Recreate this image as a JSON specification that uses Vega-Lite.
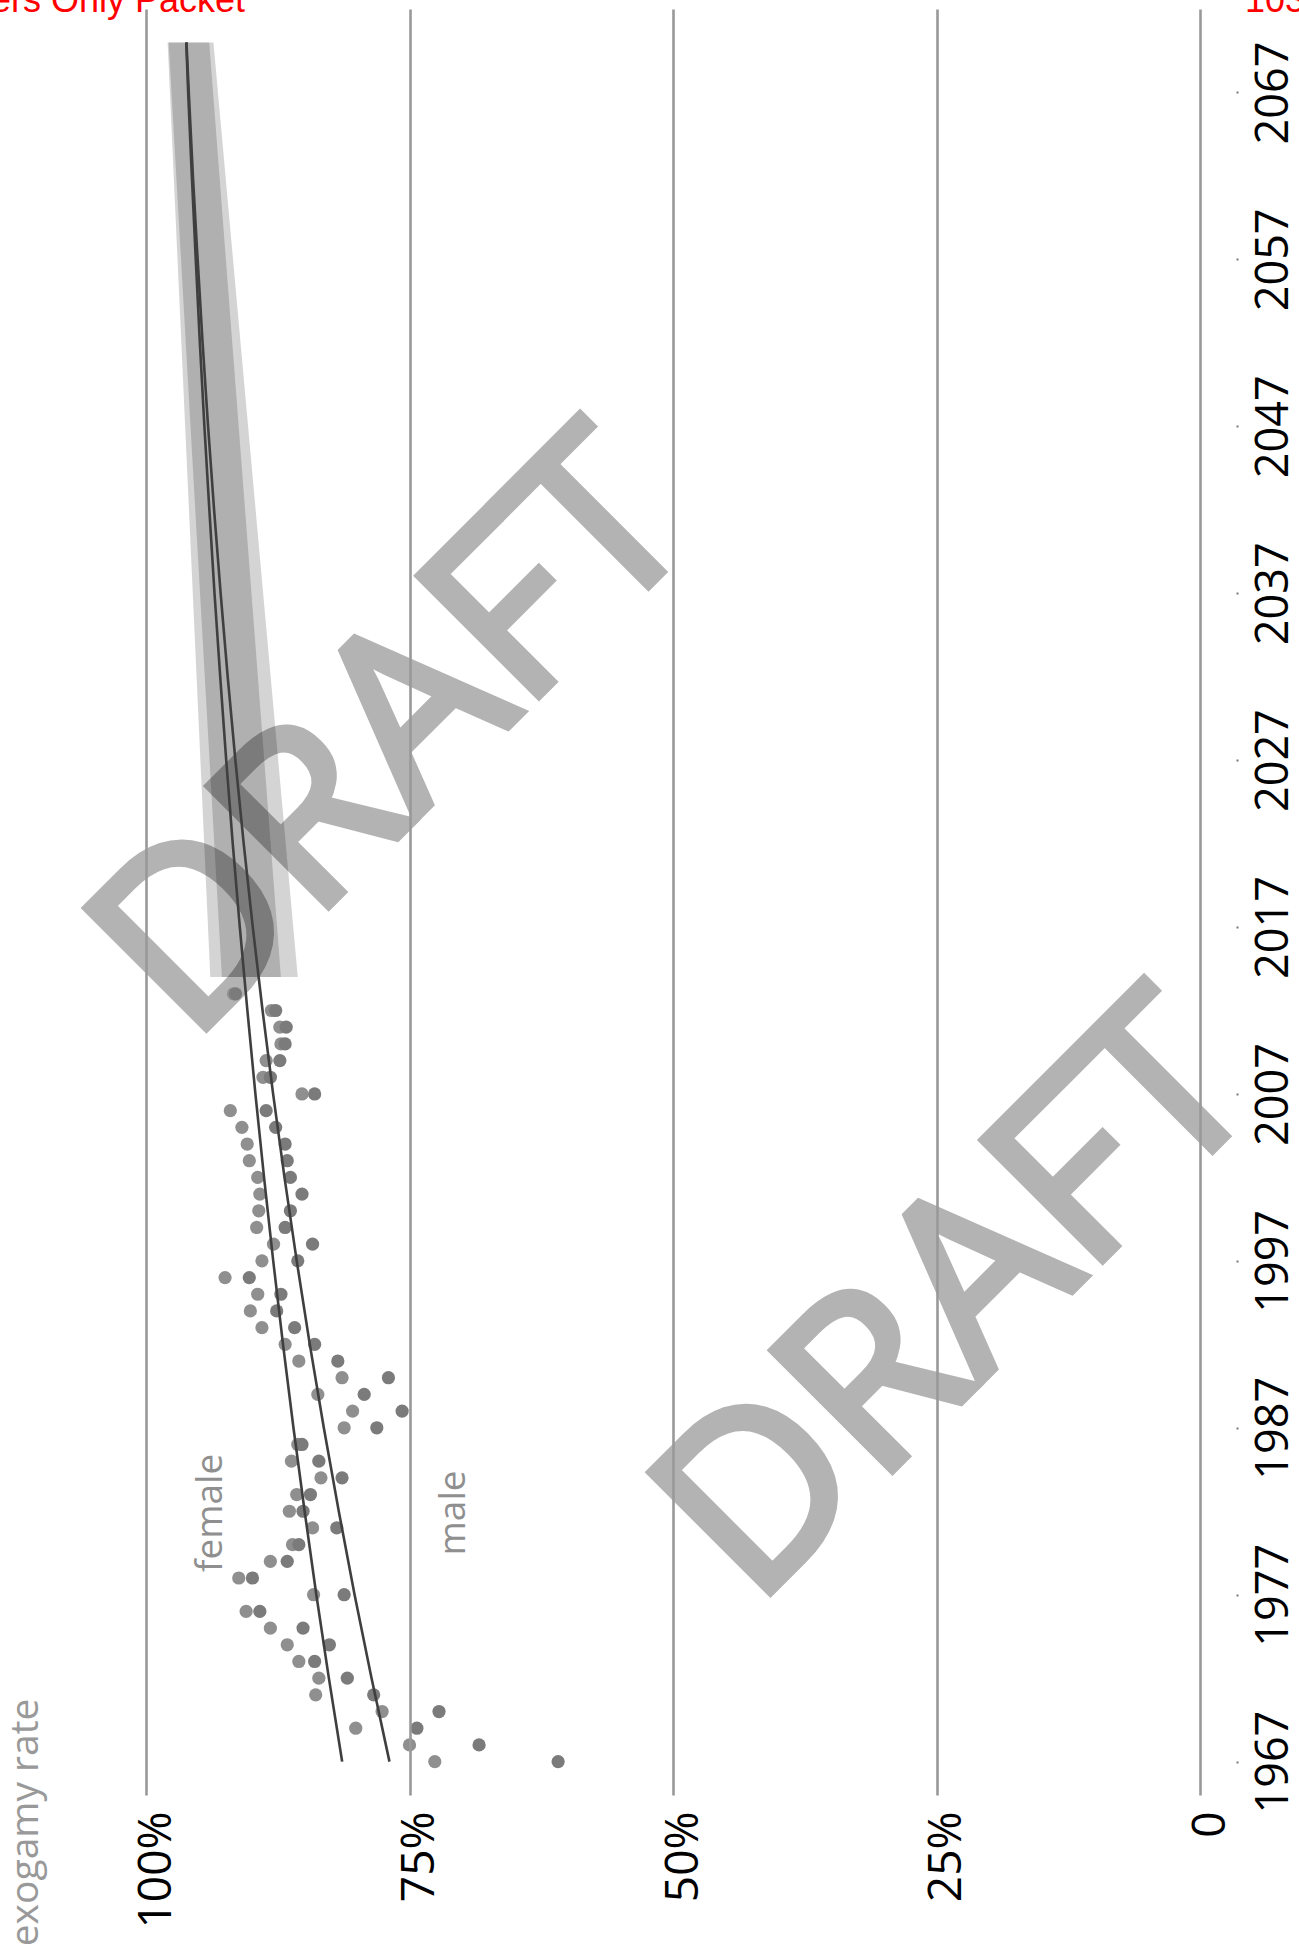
{
  "$schema": "https://vega.github.io/schema/vega-lite/v6.json",
  "width": 1054,
  "height": 1786,
  "autosize": {"type": "none"},
  "padding": {"left": 146, "top": 9, "right": 99, "bottom": 149},
  "background": "white",
  "config": {"view": {"stroke": null}, "font": "Open Sans"},
  "datasets": {
    "bands": [
      {"series": "female", "year": 2014, "rate": 87.2, "rate2": 93.9},
      {"series": "female", "year": 2070, "rate": 94.0, "rate2": 97.95},
      {"series": "male", "year": 2014, "rate": 85.6, "rate2": 92.8},
      {"series": "male", "year": 2070, "rate": 93.6, "rate2": 97.85}
    ],
    "fits": [
      {"series": "female", "year": 1967, "rate": 81.39},
      {"series": "female", "year": 1972, "rate": 82.65},
      {"series": "female", "year": 1977, "rate": 83.84},
      {"series": "female", "year": 1982, "rate": 84.95},
      {"series": "female", "year": 1987, "rate": 86.01},
      {"series": "female", "year": 1992, "rate": 87.0},
      {"series": "female", "year": 1997, "rate": 87.93},
      {"series": "female", "year": 2002, "rate": 88.8},
      {"series": "female", "year": 2007, "rate": 89.62},
      {"series": "female", "year": 2012, "rate": 90.38},
      {"series": "female", "year": 2017, "rate": 91.1},
      {"series": "female", "year": 2022, "rate": 91.77},
      {"series": "female", "year": 2027, "rate": 92.39},
      {"series": "female", "year": 2032, "rate": 92.96},
      {"series": "female", "year": 2037, "rate": 93.5},
      {"series": "female", "year": 2042, "rate": 93.99},
      {"series": "female", "year": 2047, "rate": 94.46},
      {"series": "female", "year": 2052, "rate": 94.89},
      {"series": "female", "year": 2057, "rate": 95.28},
      {"series": "female", "year": 2062, "rate": 95.65},
      {"series": "female", "year": 2067, "rate": 96.0},
      {"series": "female", "year": 2070, "rate": 96.18},
      {"series": "male", "year": 1967, "rate": 76.9},
      {"series": "male", "year": 1972, "rate": 78.6},
      {"series": "male", "year": 1977, "rate": 80.21},
      {"series": "male", "year": 1982, "rate": 81.71},
      {"series": "male", "year": 1987, "rate": 83.13},
      {"series": "male", "year": 1992, "rate": 84.46},
      {"series": "male", "year": 1997, "rate": 85.7},
      {"series": "male", "year": 2002, "rate": 86.86},
      {"series": "male", "year": 2007, "rate": 87.94},
      {"series": "male", "year": 2012, "rate": 88.94},
      {"series": "male", "year": 2017, "rate": 89.87},
      {"series": "male", "year": 2022, "rate": 90.73},
      {"series": "male", "year": 2027, "rate": 91.52},
      {"series": "male", "year": 2032, "rate": 92.25},
      {"series": "male", "year": 2037, "rate": 92.92},
      {"series": "male", "year": 2042, "rate": 93.54},
      {"series": "male", "year": 2047, "rate": 94.11},
      {"series": "male", "year": 2052, "rate": 94.63},
      {"series": "male", "year": 2057, "rate": 95.1},
      {"series": "male", "year": 2062, "rate": 95.55},
      {"series": "male", "year": 2067, "rate": 95.94},
      {"series": "male", "year": 2070, "rate": 96.16}
    ],
    "obs": [
      {"year": 1967, "series": "female", "rate": 72.6}, {"year": 1967, "series": "male", "rate": 60.9},
      {"year": 1968, "series": "female", "rate": 75.0}, {"year": 1968, "series": "male", "rate": 68.4},
      {"year": 1969, "series": "female", "rate": 80.1}, {"year": 1969, "series": "male", "rate": 74.3},
      {"year": 1970, "series": "female", "rate": 77.6}, {"year": 1970, "series": "male", "rate": 72.2},
      {"year": 1971, "series": "female", "rate": 83.9}, {"year": 1971, "series": "male", "rate": 78.4},
      {"year": 1972, "series": "female", "rate": 83.6}, {"year": 1972, "series": "male", "rate": 80.9},
      {"year": 1973, "series": "female", "rate": 85.5}, {"year": 1973, "series": "male", "rate": 84.0},
      {"year": 1974, "series": "female", "rate": 86.6}, {"year": 1974, "series": "male", "rate": 82.6},
      {"year": 1975, "series": "female", "rate": 88.2}, {"year": 1975, "series": "male", "rate": 85.1},
      {"year": 1976, "series": "female", "rate": 90.5}, {"year": 1976, "series": "male", "rate": 89.2},
      {"year": 1977, "series": "female", "rate": 84.1}, {"year": 1977, "series": "male", "rate": 81.2},
      {"year": 1978, "series": "female", "rate": 91.2}, {"year": 1978, "series": "male", "rate": 89.9},
      {"year": 1979, "series": "female", "rate": 88.2}, {"year": 1979, "series": "male", "rate": 86.6},
      {"year": 1980, "series": "female", "rate": 86.1}, {"year": 1980, "series": "male", "rate": 85.5},
      {"year": 1981, "series": "female", "rate": 84.2}, {"year": 1981, "series": "male", "rate": 81.9},
      {"year": 1982, "series": "female", "rate": 86.4}, {"year": 1982, "series": "male", "rate": 85.1},
      {"year": 1983, "series": "female", "rate": 85.7}, {"year": 1983, "series": "male", "rate": 84.4},
      {"year": 1984, "series": "female", "rate": 83.4}, {"year": 1984, "series": "male", "rate": 81.4},
      {"year": 1985, "series": "female", "rate": 86.2}, {"year": 1985, "series": "male", "rate": 83.6},
      {"year": 1986, "series": "female", "rate": 85.6}, {"year": 1986, "series": "male", "rate": 85.2},
      {"year": 1987, "series": "female", "rate": 81.2}, {"year": 1987, "series": "male", "rate": 78.1},
      {"year": 1988, "series": "female", "rate": 80.4}, {"year": 1988, "series": "male", "rate": 75.7},
      {"year": 1989, "series": "female", "rate": 83.7}, {"year": 1989, "series": "male", "rate": 79.3},
      {"year": 1990, "series": "female", "rate": 81.4}, {"year": 1990, "series": "male", "rate": 77.0},
      {"year": 1991, "series": "female", "rate": 85.5}, {"year": 1991, "series": "male", "rate": 81.8},
      {"year": 1992, "series": "female", "rate": 86.8}, {"year": 1992, "series": "male", "rate": 84.0},
      {"year": 1993, "series": "female", "rate": 89.0}, {"year": 1993, "series": "male", "rate": 85.9},
      {"year": 1994, "series": "female", "rate": 90.1}, {"year": 1994, "series": "male", "rate": 87.6},
      {"year": 1995, "series": "female", "rate": 89.4}, {"year": 1995, "series": "male", "rate": 87.2},
      {"year": 1996, "series": "female", "rate": 92.5}, {"year": 1996, "series": "male", "rate": 90.2},
      {"year": 1997, "series": "female", "rate": 89.0}, {"year": 1997, "series": "male", "rate": 85.6},
      {"year": 1998, "series": "female", "rate": 87.9}, {"year": 1998, "series": "male", "rate": 84.2},
      {"year": 1999, "series": "female", "rate": 89.5}, {"year": 1999, "series": "male", "rate": 86.8},
      {"year": 2000, "series": "female", "rate": 89.3}, {"year": 2000, "series": "male", "rate": 86.3},
      {"year": 2001, "series": "female", "rate": 89.2}, {"year": 2001, "series": "male", "rate": 85.2},
      {"year": 2002, "series": "female", "rate": 89.4}, {"year": 2002, "series": "male", "rate": 86.3},
      {"year": 2003, "series": "female", "rate": 90.2}, {"year": 2003, "series": "male", "rate": 86.6},
      {"year": 2004, "series": "female", "rate": 90.4}, {"year": 2004, "series": "male", "rate": 86.8},
      {"year": 2005, "series": "female", "rate": 90.9}, {"year": 2005, "series": "male", "rate": 87.7},
      {"year": 2006, "series": "female", "rate": 92.0}, {"year": 2006, "series": "male", "rate": 88.6},
      {"year": 2007, "series": "female", "rate": 85.2}, {"year": 2007, "series": "male", "rate": 84.0},
      {"year": 2008, "series": "female", "rate": 88.9}, {"year": 2008, "series": "male", "rate": 88.2},
      {"year": 2009, "series": "female", "rate": 88.6}, {"year": 2009, "series": "male", "rate": 87.3},
      {"year": 2010, "series": "female", "rate": 87.2}, {"year": 2010, "series": "male", "rate": 86.8},
      {"year": 2011, "series": "female", "rate": 87.3}, {"year": 2011, "series": "male", "rate": 86.7},
      {"year": 2012, "series": "female", "rate": 88.1}, {"year": 2012, "series": "male", "rate": 87.7},
      {"year": 2013, "series": "female", "rate": 91.7}, {"year": 2013, "series": "male", "rate": 91.5}
    ],
    "notes": [
      {"label": "female", "year": 1981.9, "rate": 92.8},
      {"label": "male", "year": 1981.9, "rate": 69.7}
    ],
    "stamps": [
      {"label": "DRAFT", "year": 2028.3, "rate": 76.3},
      {"label": "DRAFT", "year": 1994.5, "rate": 22.8}
    ],
    "header": [
      {"label": "Reviewers Only Packet", "year": 2071.85, "rate": 90.6}
    ],
    "page": [
      {"label": "103", "year": 2071.85, "rate": -4.27}
    ]
  },
  "encoding": {
    "y": {
      "field": "year", "type": "quantitative",
      "scale": {"domain": [1965, 2072], "zero": false, "nice": false},
      "axis": {
        "orient": "right", "offset": 36,
        "values": [1967, 1977, 1987, 1997, 2007, 2017, 2027, 2037, 2047, 2057, 2067],
        "format": "d", "domain": false, "grid": false,
        "ticks": true, "tickSize": 2, "tickWidth": 2, "tickColor": "#777777",
        "labelAngle": 270, "labelAlign": "center", "labelBaseline": "top",
        "labelPadding": 13, "labelFontSize": 45, "labelColor": "#000000",
        "labelFont": "Open Sans", "labelFlush": false, "labelOverlap": false,
        "title": null
      }
    },
    "x": {
      "field": "rate", "type": "quantitative",
      "scale": {"domain": [0, 100], "reverse": true, "zero": false, "nice": false},
      "axis": {
        "orient": "bottom", "values": [0, 25, 50, 75, 100], "zindex": 1,
        "labelExpr": "datum.value == 0 ? '0' : datum.value + '%'",
        "domain": false, "ticks": false,
        "grid": true, "gridColor": "#999999", "gridWidth": 2.6, "gridOpacity": 1,
        "labelAngle": 270, "labelAlign": "right", "labelBaseline": "middle",
        "labelPadding": 16, "labelOffset": 10, "labelFontSize": 46,
        "labelColor": "#000000", "labelFont": "Open Sans",
        "labelFlush": false, "labelOverlap": false,
        "title": "exogamy rate", "titleAngle": 270, "titleAlign": "right",
        "titleBaseline": "alphabetic", "titleX": -109, "titleY": -97,
        "titleColor": "#999999", "titleFontSize": 39, "titleFontWeight": "normal",
        "titleFont": "Open Sans"
      }
    }
  },
  "layer": [
    {
      "data": {"name": "stamps"},
      "mark": {"type": "text", "angle": -45, "align": "center", "baseline": "middle", "fontSize": 238, "fontWeight": "normal", "font": "Open Sans", "color": "#b3b3b3", "stroke": "#b3b3b3", "strokeWidth": 8, "strokeJoin": "miter"},
      "encoding": {
        "text": {"field": "label"}
      }
    },
    {
      "data": {"name": "bands"},
      "mark": {"type": "area", "orient": "horizontal", "color": "#000000", "opacity": 0.17},
      "encoding": {
        "x2": {"field": "rate2"},
        "detail": {"field": "series"}
      }
    },
    {
      "data": {"name": "obs"},
      "mark": {"type": "circle", "size": 175, "opacity": 1},
      "encoding": {
        "color": {
          "field": "series", "type": "nominal",
          "scale": {"domain": ["female", "male"], "range": ["#8f8f8f", "#7b7b7b"]},
          "legend": null
        }
      }
    },
    {
      "data": {"name": "fits"},
      "mark": {"type": "line", "interpolate": "monotone", "color": "#3f3f3f", "strokeWidth": 2.6},
      "encoding": {
        "detail": {"field": "series"}
      }
    },
    {
      "data": {"name": "notes"},
      "mark": {"type": "text", "angle": 270, "align": "center", "baseline": "alphabetic", "fontSize": 37, "font": "Open Sans", "color": "#8f8f8f"},
      "encoding": {
        "text": {"field": "label"}
      }
    },
    {
      "data": {"name": "header"},
      "mark": {"type": "text", "align": "right", "baseline": "alphabetic", "fontSize": 36, "font": "Liberation Sans", "color": "#ff0000"},
      "encoding": {
        "text": {"field": "label"}
      }
    },
    {
      "data": {"name": "page"},
      "mark": {"type": "text", "align": "left", "baseline": "alphabetic", "fontSize": 36, "font": "Liberation Sans", "color": "#ff0000"},
      "encoding": {
        "text": {"field": "label"}
      }
    }
  ]
}
